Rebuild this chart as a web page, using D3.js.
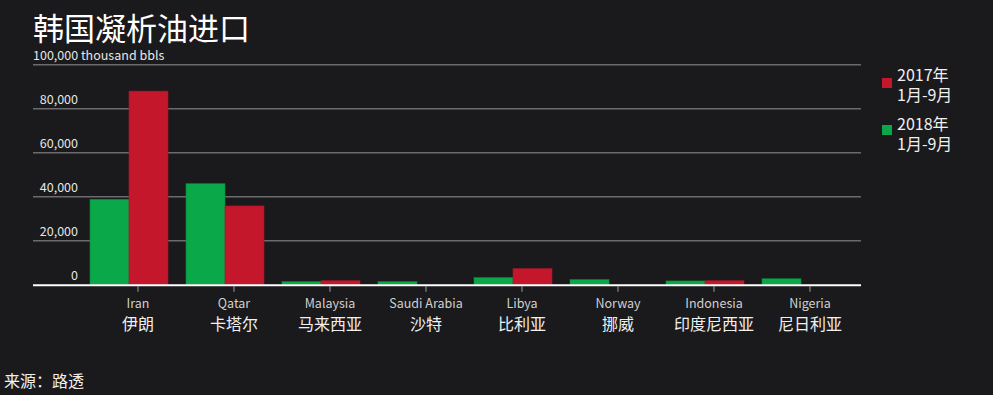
<!DOCTYPE html>
<html>
<head>
<meta charset="utf-8">
<script src="https://cdn.jsdelivr.net/npm/d3@7"></script>
<style>
body { margin:0; padding:0; background:#1a191b; }
svg text { font-family: "Noto Sans CJK SC", "Noto Sans", sans-serif; }
</style>
</head>
<body>
<svg id="chart" width="993" height="395"></svg>
<script>
// data
var countriesEn = ["Iran", "Qatar", "Malaysia", "Saudi Arabia", "Libya", "Norway", "Indonesia", "Nigeria"];
var countriesZh = ["伊朗", "卡塔尔", "马来西亚", "沙特", "比利亚", "挪威", "印度尼西亚", "尼日利亚"];
var imports2018 = [38800, 45900, 1400, 1400, 3200, 2300, 1700, 2700];
var imports2017 = [88000, 35800, 1800, 0, 7300, 0, 1800, 0];
var yTicks = [0, 20000, 40000, 60000, 80000, 100000];

var svg = d3.select("#chart");
svg.append("rect").attr("width", 993).attr("height", 395).attr("fill", "#1a191b");

var left = 33, right = 861;
var y = d3.scaleLinear().domain([0, 100000]).range([284.7, 64.7]);
var x = d3.scaleBand().domain(countriesEn).range([81, 849])
  .paddingInner(0.1875).paddingOuter(0.09375);
var xs = d3.scaleBand().domain(["2018", "2017"]).range([0, x.bandwidth()]);
// ticks and labels in the original sit a little right of the bar pair
var tickX = x.bandwidth() / 2 + 9;

// title
svg.append("text").attr("x", 33).attr("y", 40)
  .attr("font-size", "31px").attr("fill", "#ffffff")
  .text("韩国凝析油进口");

// gridlines
svg.selectAll("line.grid")
  .data(yTicks.slice(1))
  .enter()
  .append("line")
  .attr("x1", left).attr("x2", right)
  .attr("y1", function(d){ return y(d); })
  .attr("y2", function(d){ return y(d); })
  .attr("stroke", "#6b6a6c").attr("stroke-width", 1.6);

svg.selectAll("text.ytick")
  .data(yTicks)
  .enter()
  .append("text")
  .attr("x", function(d){ return d === 100000 ? left : 78; })
  .attr("y", function(d){ return y(d) - 5; })
  .attr("text-anchor", function(d){ return d === 100000 ? "start" : "end"; })
  .attr("font-size", "12.5px").attr("fill", "#e6e6e6")
  .text(function(d){ return d === 100000 ? "100,000 thousand bbls" : d3.format(",")(d); });

// bars
var groups = svg.selectAll("g.country")
  .data(countriesEn)
  .enter()
  .append("g")
  .attr("transform", function(d){ return "translate(" + x(d) + ",0)"; });

groups.append("rect")
  .attr("x", xs("2018"))
  .attr("y", function(d,i){ return y(imports2018[i]); })
  .attr("width", xs.bandwidth())
  .attr("height", function(d,i){ return y(0) - y(imports2018[i]); })
  .attr("fill", "#0ba84a").attr("stroke", "#0a8a3e").attr("stroke-width", 0.6);

groups.append("rect")
  .attr("x", xs("2017"))
  .attr("y", function(d,i){ return y(imports2017[i]); })
  .attr("width", xs.bandwidth())
  .attr("height", function(d,i){ return y(0) - y(imports2017[i]); })
  .attr("fill", "#c4172c").attr("stroke", "#a8142a").attr("stroke-width", 0.6);

// baseline and ticks
svg.append("line")
  .attr("x1", left).attr("x2", right)
  .attr("y1", y(0) + 0.5).attr("y2", y(0) + 0.5)
  .attr("stroke", "#ffffff").attr("stroke-width", 2);

groups.append("line")
  .attr("x1", tickX).attr("x2", tickX)
  .attr("y1", y(0) + 1.5).attr("y2", y(0) + 7)
  .attr("stroke", "#8a898b").attr("stroke-width", 1.2);

groups.append("text")
  .attr("x", tickX).attr("y", 308)
  .attr("text-anchor", "middle")
  .attr("font-size", "12.5px").attr("fill", "#d0d0d0")
  .text(function(d){ return d; });

groups.append("text")
  .attr("x", tickX).attr("y", 330)
  .attr("text-anchor", "middle")
  .attr("font-size", "16px").attr("fill", "#f0f0f0")
  .text(function(d,i){ return countriesZh[i]; });

// legend
var legend = [
  {lines: ["2017年", "1月-9月"], color: "#c4172c", y: 78, ty: 3},
  {lines: ["2018年", "1月-9月"], color: "#0ba84a", y: 125, ty: 5}
];
var lg = svg.selectAll("g.legend")
  .data(legend)
  .enter()
  .append("g")
  .attr("transform", function(d){ return "translate(882," + d.y + ")"; });
lg.append("rect").attr("width", 10).attr("height", 10)
  .attr("fill", function(d){ return d.color; });
lg.each(function(d){
  d3.select(this).selectAll("text")
    .data(d.lines)
    .enter()
    .append("text")
    .attr("x", 15)
    .attr("y", function(t,i){ return d.ty + i * 19.5; })
    .attr("font-size", "16px").attr("fill", "#f0f0f0")
    .text(function(t){ return t; });
});

// source
svg.append("text").attr("x", 4).attr("y", 387)
  .attr("font-size", "16px").attr("fill", "#f0f0f0")
  .text("来源：路透");
</script>
</body>
</html>
